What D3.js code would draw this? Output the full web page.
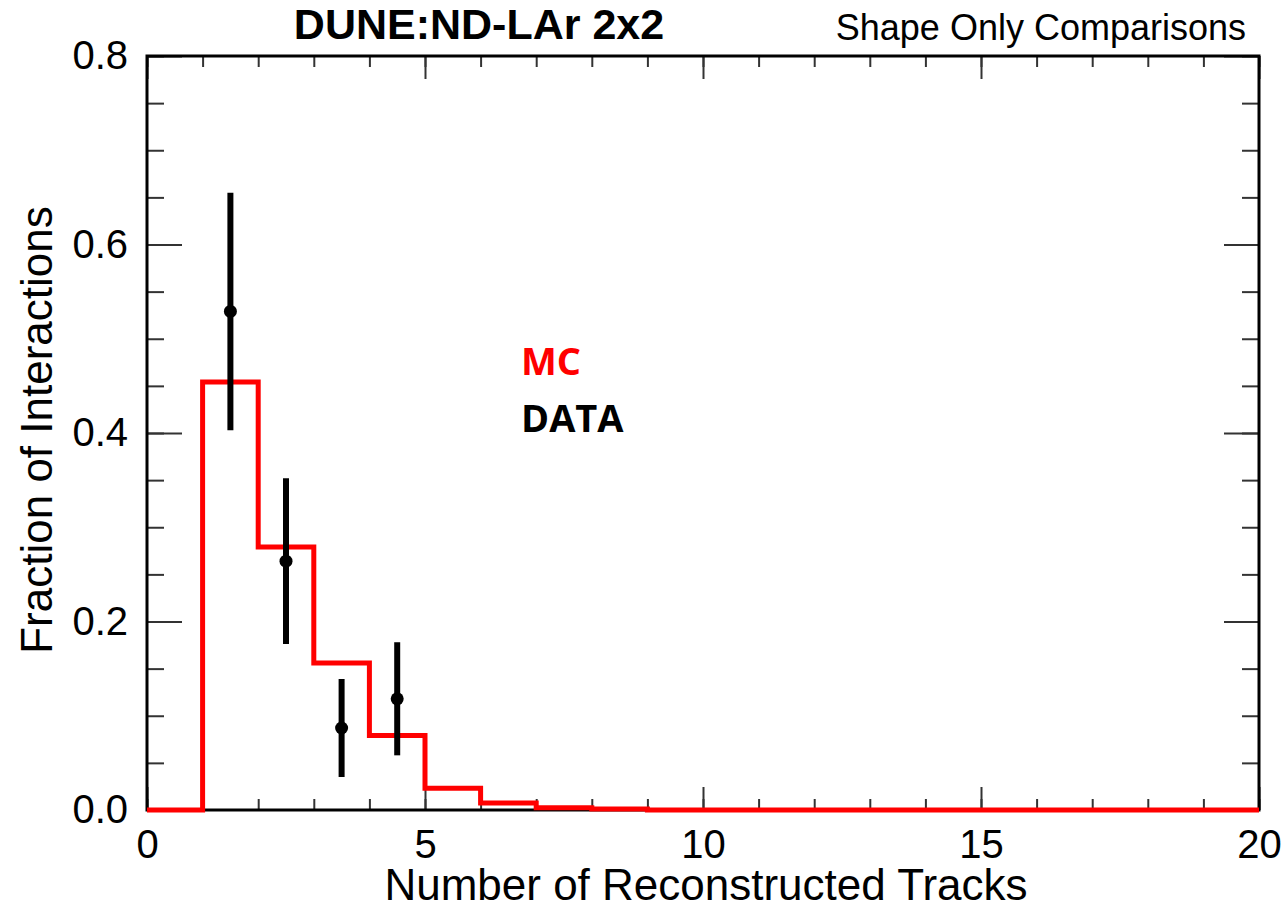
<!DOCTYPE html>
<html>
<head>
<meta charset="utf-8">
<script src="https://cdn.jsdelivr.net/npm/d3@7"></script>
<style>
  body { margin: 0; background: #fff; }
  text { font-family: "Liberation Sans", Arial, sans-serif; }
</style>
</head>
<body>
<div id="chart"></div>
<script>
// MC histogram: bin lower edges 0..19 (width 1), shape-normalised fraction
const binEdges = d3.range(0, 21, 1);
const mcValues = [0, 0.454, 0.279, 0.156, 0.079, 0.023, 0.0075, 0.0025, 0.001, 0,
                  0, 0, 0, 0, 0, 0, 0, 0, 0, 0];

// DATA points with symmetric errors
const dataX = [1.5, 2.5, 3.5, 4.5];
const dataY = [0.529, 0.264, 0.087, 0.118];
const dataErr = [0.126, 0.088, 0.052, 0.060];

const xMajor = [0, 5, 10, 15, 20];
const xMinor = d3.range(0, 21, 1);
const yMajor = [0, 0.2, 0.4, 0.6, 0.8];
const yMinor = d3.range(0, 0.8001, 0.05);

const W = 1286, H = 909;
const margin = { top: 56, right: 27, bottom: 99, left: 147 };

const svg = d3.select("#chart").append("svg")
  .attr("width", W)
  .attr("height", H);

const x = d3.scaleLinear().domain([0, 20]).range([margin.left, W - margin.right]);
const y = d3.scaleLinear().domain([0, 0.8]).range([H - margin.bottom, margin.top]);

const tickColor = "#333";

function styleAxis(g) {
  g.select(".domain").remove();
  g.attr("font-size", null).attr("font-family", null);
  g.selectAll(".tick line").attr("stroke", tickColor).attr("stroke-width", 2);
  g.selectAll(".tick text").attr("fill", "#000").style("font-size", "40px")
    .style("font-family", "'Liberation Sans', Arial, sans-serif");
}

const yb = y(0), yt = y(0.8), xl = x(0), xr = x(20);

// bottom axis: minor + major with labels
svg.append("g").attr("transform", `translate(0,${yb})`)
  .call(d3.axisBottom(x).tickValues(xMinor).tickSize(-11).tickFormat(""))
  .call(styleAxis);
svg.append("g").attr("transform", `translate(0,${yb})`)
  .call(d3.axisBottom(x).tickValues(xMajor).tickSize(-23).tickPadding(20).tickFormat(d3.format("d")))
  .call(styleAxis);

// top axis
svg.append("g").attr("transform", `translate(0,${yt})`)
  .call(d3.axisTop(x).tickValues(xMinor).tickSize(-11).tickFormat(""))
  .call(styleAxis);
svg.append("g").attr("transform", `translate(0,${yt})`)
  .call(d3.axisTop(x).tickValues(xMajor).tickSize(-23).tickFormat(""))
  .call(styleAxis);

// left axis
svg.append("g").attr("transform", `translate(${xl},0)`)
  .call(d3.axisLeft(y).tickValues(yMinor).tickSize(-17).tickFormat(""))
  .call(styleAxis);
svg.append("g").attr("transform", `translate(${xl},0)`)
  .call(d3.axisLeft(y).tickValues(yMajor).tickSize(-35).tickPadding(19).tickFormat(d3.format(".1f")))
  .call(styleAxis);

// right axis
svg.append("g").attr("transform", `translate(${xr},0)`)
  .call(d3.axisRight(y).tickValues(yMinor).tickSize(-17).tickFormat(""))
  .call(styleAxis);
svg.append("g").attr("transform", `translate(${xr},0)`)
  .call(d3.axisRight(y).tickValues(yMajor).tickSize(-35).tickFormat(""))
  .call(styleAxis);

// frame
svg.append("rect")
  .attr("x", xl).attr("y", yt)
  .attr("width", xr - xl).attr("height", yb - yt)
  .attr("fill", "none").attr("stroke", "#000").attr("stroke-width", 3);

// MC step histogram
const stepPts = binEdges.map((e, i) => [e, i < mcValues.length ? mcValues[i] : mcValues[mcValues.length - 1]]);
const line = d3.line().x(d => x(d[0])).y(d => y(d[1])).curve(d3.curveStepAfter);
svg.append("path")
  .datum(stepPts)
  .attr("d", line)
  .attr("fill", "none")
  .attr("stroke", "#ff0000")
  .attr("stroke-width", 5)
  .attr("stroke-linejoin", "miter");

// DATA error bars + markers
const pts = dataX.map((d, i) => ({ x: d, y: dataY[i], e: dataErr[i] }));
svg.selectAll("line.err")
  .data(pts)
  .join("line")
  .attr("class", "err")
  .attr("x1", d => x(d.x)).attr("x2", d => x(d.x))
  .attr("y1", d => y(d.y + d.e)).attr("y2", d => y(d.y - d.e))
  .attr("stroke", "#000").attr("stroke-width", 6);
svg.selectAll("circle.pt")
  .data(pts)
  .join("circle")
  .attr("class", "pt")
  .attr("cx", d => x(d.x)).attr("cy", d => y(d.y))
  .attr("r", 6.5).attr("fill", "#000");

// titles
svg.append("text")
  .attr("x", 479).attr("y", 39)
  .attr("text-anchor", "middle")
  .style("font-size", "43px").style("font-weight", "bold")
  .text("DUNE:ND-LAr 2x2");

svg.append("text")
  .attr("x", 1246).attr("y", 40)
  .attr("text-anchor", "end")
  .style("font-size", "36px")
  .text("Shape Only Comparisons");

svg.append("text")
  .attr("x", 706).attr("y", 900)
  .attr("text-anchor", "middle")
  .style("font-size", "44px")
  .text("Number of Reconstructed Tracks");

svg.append("text")
  .attr("transform", `translate(52,430) rotate(-90)`)
  .attr("text-anchor", "middle")
  .style("font-size", "44px")
  .text("Fraction of Interactions");

// legend-like labels
svg.append("text")
  .attr("x", 521).attr("y", 375)
  .style("font-family", "'Open Sans', sans-serif")
  .style("font-size", "38px").style("font-weight", "bold")
  .attr("fill", "#ff0000")
  .text("MC");
svg.append("text")
  .attr("x", 521).attr("y", 432)
  .style("font-family", "'Open Sans', sans-serif")
  .style("font-size", "38px").style("font-weight", "bold")
  .attr("fill", "#000")
  .text("DATA");
</script>
</body>
</html>
